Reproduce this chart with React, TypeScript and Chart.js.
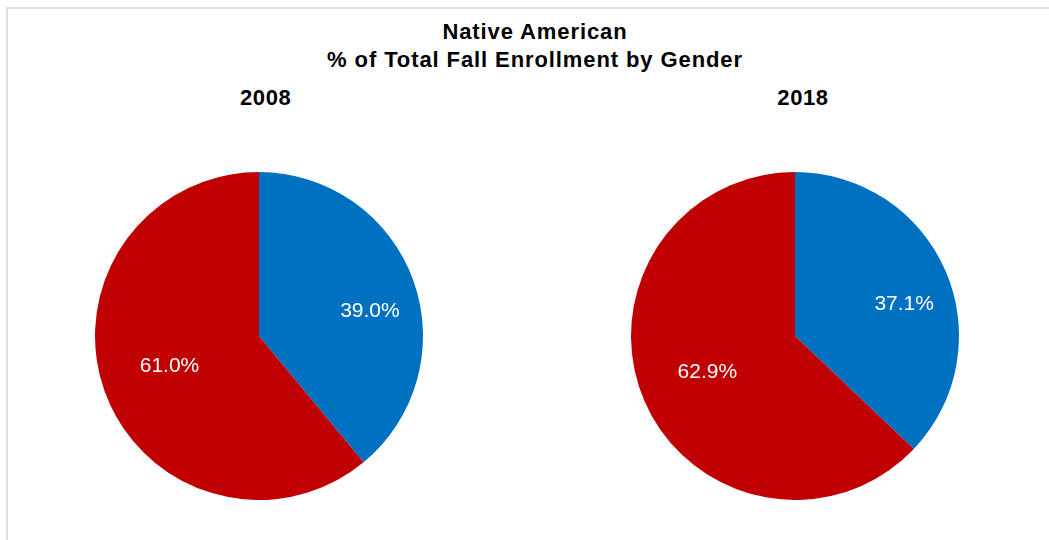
import React, { useEffect, useRef } from "react";
import { Chart, registerables } from "chart.js";

Chart.register(...registerables);

const titleLines = ["Native American", "% of Total Fall Enrollment by Gender"];
const genders = ["Male", "Female"];
const years = ["2008", "2018"];
const share2008 = [39.0, 61.0];
const share2018 = [37.1, 62.9];
const sliceColors = ["#0070C0", "#C00000"];

const FONT = "'Liberation Sans', Arial, sans-serif";

const labelPlugin = {
  id: "sliceLabels",
  afterDatasetsDraw(chart: any, _args: any, opts: any) {
    const ctx = chart.ctx;
    const meta = chart.getDatasetMeta(0);
    const data = chart.data.datasets[0].data as number[];
    ctx.save();
    ctx.fillStyle = "#ffffff";
    ctx.font = `21px ${FONT}`;
    ctx.textAlign = "center";
    ctx.textBaseline = "middle";
    meta.data.forEach((arc: any, i: number) => {
      const { x, y, startAngle, endAngle, outerRadius } = arc.getProps(
        ["x", "y", "startAngle", "endAngle", "outerRadius"],
        true
      );
      const mid = (startAngle + endAngle) / 2 + ((opts.shift[i] || 0) * Math.PI) / 180;
      const r = outerRadius * opts.radius[i];
      ctx.fillText(data[i].toFixed(1) + "%", x + Math.cos(mid) * r, y + Math.sin(mid) * r + 1);
    });
    ctx.restore();
  },
};

function Pie({ values, left }: { values: number[]; left: number }) {
  const ref = useRef<HTMLCanvasElement>(null);
  useEffect(() => {
    if (!ref.current) return;
    const chart = new Chart(ref.current, {
      type: "pie",
      data: {
        labels: genders,
        datasets: [
          {
            data: values,
            backgroundColor: sliceColors,
            borderWidth: 0,
          },
        ],
      },
      options: {
        animation: false,
        responsive: false,
        layout: { padding: 16 },
        plugins: {
          legend: { display: false },
          tooltip: { enabled: false },
          title: { display: false },
          sliceLabels: { radius: [0.695, 0.575], shift: [6.5, 1.5] },
        } as any,
      },
      plugins: [labelPlugin],
    });
    return () => chart.destroy();
  }, [values]);
  return (
    <canvas
      ref={ref}
      width={360}
      height={360}
      style={{ position: "absolute", left, top: 156, width: 360, height: 360 }}
    />
  );
}

export default function App() {
  const textBase: React.CSSProperties = {
    position: "absolute",
    fontFamily: FONT,
    fontWeight: "bold",
    fontSize: 22,
    lineHeight: "28.5px",
    color: "#000",
    textAlign: "center",
    whiteSpace: "nowrap",
  };
  return (
    <div
      style={{
        position: "fixed",
        left: 0,
        top: 0,
        width: 1049,
        height: 540,
        overflow: "hidden",
        background: "#fff",
      }}
    >
      <div
        style={{
          position: "absolute",
          left: 6,
          top: 7,
          width: 1200,
          height: 700,
          border: "2px solid #e0e0e0",
        }}
      />
      <div style={{ ...textBase, left: 235, width: 600, top: 17.6, letterSpacing: "0.9px" }}>
        {titleLines.map((t) => (
          <div key={t}>{t}</div>
        ))}
      </div>
      <div style={{ ...textBase, left: 165.7, width: 200, top: 84, letterSpacing: "0.6px" }}>{years[0]}</div>
      <div style={{ ...textBase, left: 703, width: 200, top: 84, letterSpacing: "0.6px" }}>{years[1]}</div>
      <Pie values={share2008} left={79} />
      <Pie values={share2018} left={615} />
    </div>
  );
}
